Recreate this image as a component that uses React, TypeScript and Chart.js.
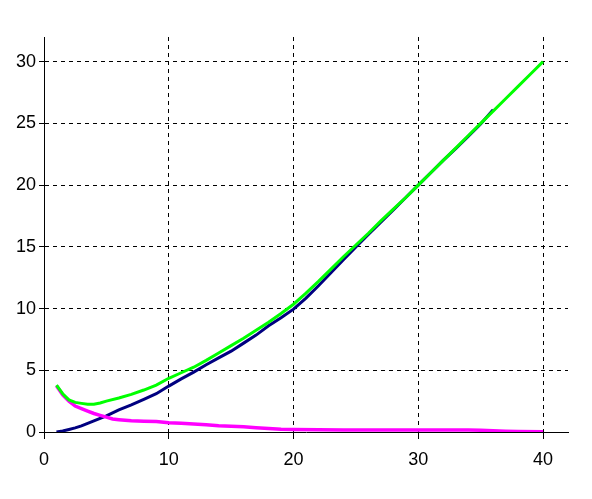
import React, { useEffect, useRef } from "react";
import { Chart, registerables } from "chart.js";

Chart.register(...registerables);

const greenX = [1, 1.5, 2, 2.5, 3, 3.5, 4, 4.5, 5, 6, 7, 8, 9, 10, 11, 12, 13, 14, 15, 16, 17, 18, 19, 20, 21, 22, 23, 24, 25, 26, 27, 28, 29, 30, 31, 32, 33, 34, 35, 36, 37, 38, 39, 40];
const greenY = [3.8, 3.1, 2.6, 2.4, 2.32, 2.25, 2.25, 2.35, 2.5, 2.75, 3.05, 3.4, 3.8, 4.35, 4.8, 5.25, 5.8, 6.4, 7.0, 7.6, 8.25, 8.9, 9.6, 10.35, 11.25, 12.2, 13.2, 14.2, 15.15, 16.1, 17.1, 18.05, 19.0, 20.0, 21.0, 22.0, 23.0, 24.0, 25.0, 26.0, 27.0, 28.0, 29.0, 30.0];

const navyX = [1, 1.5, 2, 2.5, 3, 3.5, 4, 5, 6, 7, 8, 9, 10, 11, 12, 13, 14, 15, 16, 17, 18, 19, 20, 21, 22, 23, 24, 25, 26, 27, 28, 29, 30, 31, 32, 33, 34, 35, 36];
const navyY = [0, 0.08, 0.2, 0.33, 0.5, 0.7, 0.9, 1.3, 1.8, 2.2, 2.65, 3.1, 3.72, 4.3, 4.85, 5.45, 6.0, 6.55, 7.2, 7.85, 8.6, 9.25, 9.95, 10.85, 11.85, 12.9, 13.95, 15.0, 16.0, 17.0, 18.0, 19.0, 20.0, 21.0, 22.0, 22.95, 23.95, 24.95, 26.1];

const magentaX = [1, 1.5, 2, 2.5, 3, 3.5, 4, 4.5, 5, 5.5, 6, 7, 8, 9, 10, 11, 12, 13, 14, 15, 16, 17, 18, 19, 20, 22, 24, 26, 28, 30, 32, 34, 35, 36, 37, 38, 40];
const magentaY = [3.75, 3.0, 2.5, 2.1, 1.9, 1.7, 1.5, 1.35, 1.2, 1.05, 1.0, 0.92, 0.88, 0.85, 0.75, 0.7, 0.65, 0.58, 0.5, 0.46, 0.42, 0.35, 0.28, 0.22, 0.2, 0.18, 0.16, 0.16, 0.16, 0.16, 0.16, 0.16, 0.15, 0.1, 0.06, 0.04, 0.03];

const xTicks = [0, 10, 20, 30, 40];
const yTicks = [0, 5, 10, 15, 20, 25, 30];

const pts = (xs: number[], ys: number[]) => xs.map((x, i) => ({ x, y: ys[i] }));

export default function App() {
  const ref = useRef<HTMLCanvasElement | null>(null);
  useEffect(() => {
    document.body.style.margin = "0";
    const canvas = ref.current!;
    const font = { family: "'Liberation Sans', Arial, sans-serif", size: 18 };
    const chart = new Chart(canvas, {
      type: "line",
      data: {
        datasets: [
          { data: pts(greenX, greenY), borderColor: "#00ff00", borderWidth: 3, pointRadius: 0, tension: 0 },
          { data: pts(magentaX, magentaY), borderColor: "#ff00ff", borderWidth: 3.5, pointRadius: 0, tension: 0 },
          { data: pts(navyX, navyY), borderColor: "#000080", borderWidth: 3, pointRadius: 0, tension: 0 },
        ],
      },
      options: {
        animation: false,
        responsive: false,
        maintainAspectRatio: false,
        layout: { padding: { left: 0, right: 24, top: 37, bottom: 0 } },
        plugins: { legend: { display: false }, tooltip: { enabled: false } },
        scales: {
          x: {
            type: "linear",
            min: 0,
            max: 42,
            afterFit: (s: any) => { s.height = 67; },
            afterBuildTicks: (s: any) => { s.ticks = xTicks.map((v) => ({ value: v })); },
            ticks: { color: "#000", font, padding: 10, maxRotation: 0 },
            grid: { color: "#000", lineWidth: 1, tickLength: 7, tickColor: "#000", tickWidth: 1 },
            border: { display: true, color: "#000", width: 1, dash: [4, 4] },
          },
          y: {
            type: "linear",
            min: 0,
            max: 32,
            afterFit: (s: any) => { s.width = 44; },
            afterBuildTicks: (s: any) => { s.ticks = yTicks.map((v) => ({ value: v })); },
            ticks: { color: "#000", font, padding: 3 },
            grid: { color: "#000", lineWidth: 1, tickLength: 5, tickColor: "#000", tickWidth: 1 },
            border: { display: true, color: "#000", width: 1, dash: [4, 4] },
          },
        },
      },
    });
    return () => chart.destroy();
  }, []);
  return (
    <div style={{ position: "fixed", left: 0, top: 0, width: 592, height: 499, background: "#fff" }}>
      <canvas ref={ref} width={592} height={499} style={{ width: 592, height: 499 }} />
    </div>
  );
}
